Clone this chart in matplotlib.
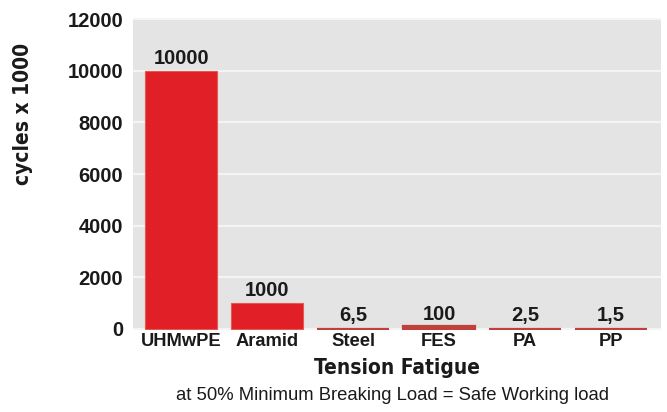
import matplotlib
matplotlib.use("Agg")
import matplotlib.pyplot as plt
import numpy as np

categories = ["UHMwPE", "Aramid", "Steel", "FES", "PA", "PP"]
values = [10000, 1000, 6.5, 100, 2.5, 1.5]
value_labels = ["10000", "1000", "6,5", "100", "2,5", "1,5"]
y_ticks = [0, 2000, 4000, 6000, 8000, 10000, 12000]

fig = plt.figure(figsize=(6.67, 4.12), dpi=100)
ax = fig.add_axes([133/667, 1 - 330/412, (661-133)/667, (330-18)/412])
ax.set_facecolor("#e4e4e4")

x = np.arange(len(categories))
for xi, v in zip(x, values):
    big = v > 500
    ax.bar(xi, v, width=0.84, color="#e01f26" if big else "#c0403c",
           edgecolor="#e8584e" if big else "#c0403c", linewidth=0.8 if big else 1.6,
           zorder=3)

for xi, v, lab in zip(x, values, value_labels):
    ax.annotate(lab, (xi, max(v, 60)), xytext=(0, 2), textcoords="offset points",
                ha="center", va="bottom", fontsize=14.5, fontweight="bold",
                family="Liberation Sans", color="#1a1a1a")

ax.set_xlim(-0.56, 5.58)
ax.set_ylim(-40, 12040)
ax.set_yticks(y_ticks)
ax.set_yticklabels([str(t) for t in y_ticks], fontsize=14.5, fontweight="bold",
                   family="Liberation Sans", color="#1a1a1a")
ax.set_xticks(x)
ax.set_xticklabels(categories, fontsize=13.2, fontweight="bold",
                   family="Liberation Sans", color="#1a1a1a")
ax.tick_params(axis="both", length=0)
ax.tick_params(axis="y", pad=7)
ax.tick_params(axis="x", pad=2)
ax.grid(axis="y", color="#f4f4f4", linewidth=1.6, zorder=0)
ax.set_axisbelow(True)
for s in ax.spines.values():
    s.set_visible(False)

fig.text(23/667, 1 - 114/412, "cycles x 1000", rotation=90, ha="center", va="center",
         fontsize=15, fontweight="bold", family="DejaVu Sans", fontstretch="condensed",
         color="#1a1a1a")
fig.text(397/667, 1 - 368/412, "Tension Fatigue", ha="center", va="center",
         fontsize=15, fontweight="bold", family="DejaVu Sans", fontstretch="condensed",
         color="#1a1a1a")
fig.text(393/667, 1 - 396/412, "at 50% Minimum Breaking Load = Safe Working load",
         ha="center", va="center", fontsize=13.3, family="Liberation Sans",
         color="#1a1a1a")

fig.savefig("out.png", dpi=100, facecolor="white")
